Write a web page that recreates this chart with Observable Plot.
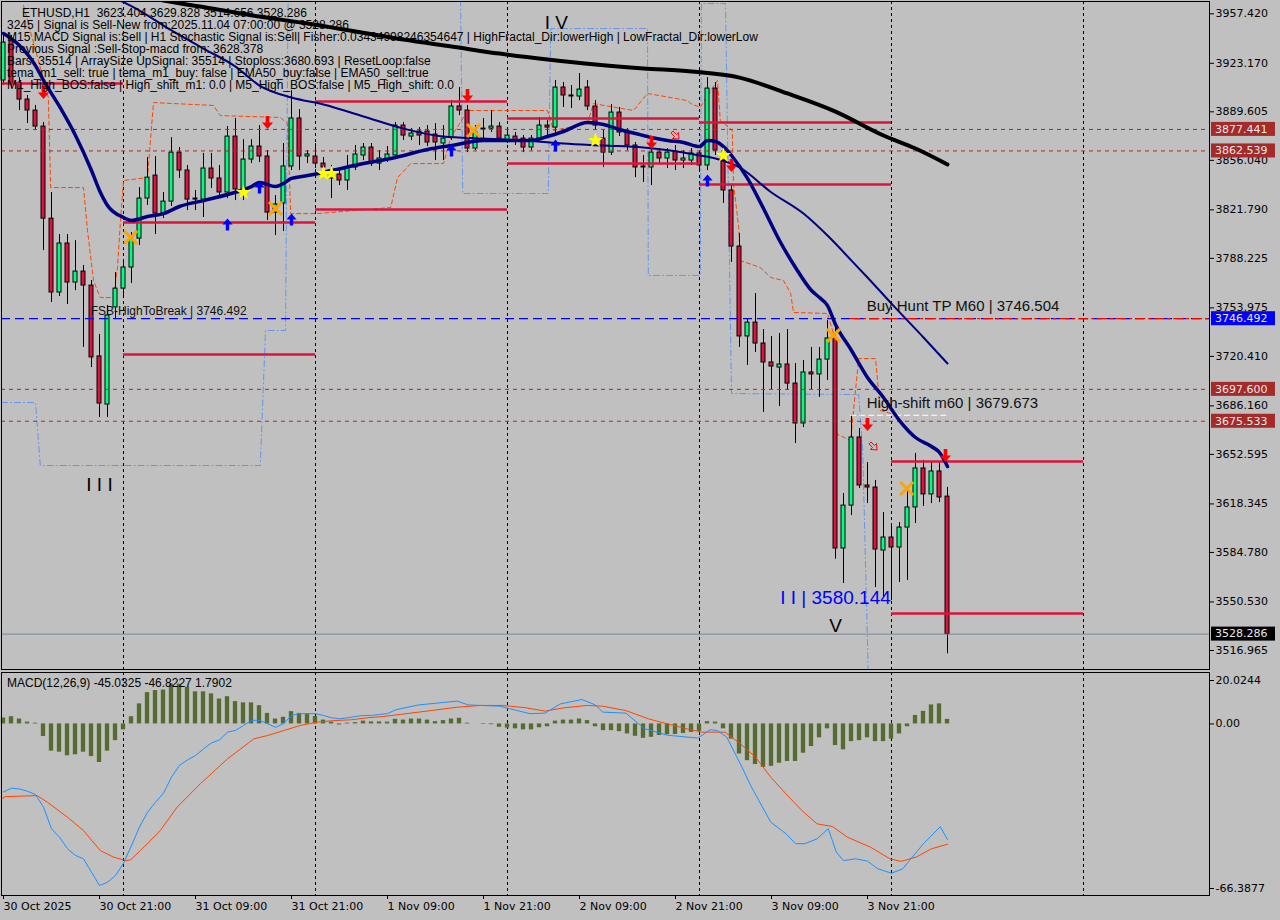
<!DOCTYPE html>
<html><head><meta charset="utf-8">
<script src="https://cdn.jsdelivr.net/npm/d3@7"></script>
<script src="https://cdn.jsdelivr.net/npm/@observablehq/plot@0.6"></script>
<style>
html,body{margin:0;padding:0;background:#c0c0c0;}
#chart{position:relative;width:1280px;height:920px;overflow:hidden;background:#c0c0c0;}
#chart svg{position:absolute;left:0;}
.info{position:absolute;font-family:"Liberation Sans",Arial,sans-serif;font-size:12px;line-height:12px;color:#000;white-space:pre;}
</style></head><body><div id="chart"></div>
<script>
// ---------- DATA ----------
const START_UTC = Date.UTC(2025, 9, 30, 9); // first visible H1 bar: 30 Oct 2025 09:00
const hour = h => new Date(START_UTC + h * 3600000);

const candleOpen = [3911.3,3938.9,3909.2,3898.1,3890.5,3879.4,3815.7,3764.6,3798.5,3771.5,3779.1,3769.4,3720.4,3687.1,3754.3,3767.3,3781.9,3801.9,3829.6,3845.5,3819.2,3827.5,3861.4,3849.0,3828.9,3828.9,3850.4,3843.5,3833.8,3872.5,3835.2,3856.6,3865.6,3858.7,3819.9,3826.2,3851.8,3885.0,3858.7,3858.7,3853.8,3843.5,3846.2,3842.1,3851.1,3859.4,3864.9,3853.8,3856.6,3859.4,3880.1,3872.5,3876.0,3876.0,3873.9,3867.7,3871.8,3893.3,3890.5,3864.2,3877.4,3878.0,3879.4,3869.8,3872.5,3871.1,3864.9,3871.1,3880.1,3878.7,3906.4,3900.9,3900.2,3906.4,3893.3,3871.1,3861.4,3889.1,3875.3,3866.3,3851.1,3851.1,3861.4,3857.3,3862.1,3855.9,3855.9,3860.8,3852.5,3905.7,3858.0,3835.2,3796.4,3734.2,3743.8,3729.3,3716.2,3712.7,3714.8,3701.6,3674.0,3709.3,3707.9,3718.2,3732.8,3587.5,3617.2,3664.3,3631.1,3629.7,3586.1,3595.1,3588.2,3602.0,3615.9,3642.9,3624.9,3640.8,3623.404];
const candleHigh = [3942.4,3942.4,3913.3,3900.9,3894.0,3882.2,3833.8,3804.7,3804.7,3800.5,3783.3,3772.9,3735.6,3755.6,3778.4,3785.3,3806.1,3837.2,3858.0,3858.7,3833.8,3871.8,3864.9,3852.5,3835.2,3860.8,3860.8,3852.5,3879.4,3885.0,3870.4,3870.4,3880.1,3862.8,3831.7,3867.7,3904.3,3891.2,3862.8,3867.7,3858.0,3852.5,3850.4,3859.4,3866.3,3867.7,3867.7,3862.8,3865.6,3882.2,3882.2,3878.0,3878.7,3880.1,3881.5,3880.1,3897.4,3906.4,3894.0,3880.1,3885.0,3890.5,3882.2,3876.7,3875.3,3873.2,3873.2,3885.7,3883.6,3911.3,3909.9,3907.8,3916.1,3911.3,3897.4,3876.7,3894.7,3892.6,3878.0,3868.4,3859.4,3864.2,3864.2,3864.2,3866.3,3862.8,3864.2,3862.8,3913.3,3909.9,3862.8,3838.6,3805.4,3746.6,3763.9,3739.0,3734.2,3736.3,3739.0,3715.5,3717.6,3726.6,3726.6,3745.2,3741.8,3625.6,3679.7,3670.5,3647.0,3634.6,3612.4,3603.4,3605.5,3627.6,3653.3,3648.4,3647.0,3647.0,3629.828];
const candleLow = [3907.8,3905.7,3890.5,3881.5,3876.6,3793.6,3757.7,3761.8,3756.3,3765.9,3726.6,3712.7,3678.1,3678.1,3746.6,3760.4,3770.8,3797.1,3824.8,3804.7,3815.8,3824.1,3843.5,3821.3,3821.3,3816.5,3836.5,3829.6,3829.6,3828.2,3828.2,3853.8,3854.5,3814.4,3804.0,3806.8,3849.0,3849.0,3853.8,3850.4,3845.5,3829.6,3838.6,3835.2,3849.0,3855.9,3851.8,3849.0,3854.5,3857.3,3869.8,3869.8,3866.3,3865.6,3855.9,3855.9,3869.8,3887.0,3861.4,3862.8,3869.8,3875.3,3868.4,3867.7,3866.3,3861.4,3862.8,3869.8,3873.2,3873.2,3892.6,3891.9,3897.4,3890.5,3876.6,3851.1,3859.4,3872.5,3862.8,3844.1,3840.7,3838.6,3853.8,3850.4,3849.0,3850.4,3852.5,3849.0,3849.0,3859.4,3826.2,3785.4,3726.6,3714.1,3723.1,3681.6,3697.5,3685.7,3696.8,3660.1,3671.2,3697.5,3692.0,3703.7,3580.144,3563.3,3610.3,3629.0,3618.6,3560.5,3553.6,3551.5,3564.0,3565.4,3604.8,3616.6,3618.6,3619.3,3514.656];
const candleClose = [3937.5,3909.2,3898.1,3890.5,3879.4,3815.7,3764.6,3798.5,3771.5,3779.1,3769.4,3719.7,3687.8,3748.7,3767.3,3781.9,3801.2,3829.6,3844.1,3819.2,3827.5,3861.4,3849.0,3828.9,3829.6,3850.4,3843.5,3833.8,3872.5,3835.9,3856.6,3865.6,3858.7,3819.9,3825.5,3851.8,3885.0,3858.7,3860.1,3853.8,3851.1,3847.6,3842.1,3851.1,3860.1,3864.9,3853.8,3857.3,3860.1,3880.1,3873.2,3874.6,3873.2,3868.4,3868.4,3871.1,3893.3,3890.5,3864.2,3875.3,3878.0,3879.4,3871.1,3873.2,3869.8,3864.9,3871.1,3880.1,3878.7,3906.4,3900.9,3900.2,3905.0,3893.3,3880.1,3861.4,3889.1,3875.3,3866.3,3851.1,3851.8,3861.4,3857.3,3861.4,3855.9,3857.3,3860.8,3852.5,3905.7,3862.8,3835.2,3796.4,3734.2,3743.8,3729.3,3716.2,3713.4,3714.8,3701.6,3674.0,3709.3,3707.9,3718.2,3732.8,3587.5,3617.2,3664.3,3631.1,3629.7,3586.8,3595.1,3588.2,3602.0,3615.9,3642.9,3624.9,3640.8,3622.8,3528.286];

// indicator lines: [hours since first bar, price]
const slowMA = [[14,3972.8],[17,3970.0],[20,3966.6],[26,3961.1],[32,3955.5],[38,3950.7],[44,3945.2],[50,3939.6],[56,3934.8],[62,3929.9],[68,3925.8],[74,3922.3],[80,3919.6],[86,3917.5],[92,3913.3],[98,3902.3],[104,3889.8],[110,3873.2],[114,3864.2],[118,3853.2]];
const midMA = [[13,3970.8],[17,3959.7],[21,3945.9],[25,3933.4],[29,3920.9],[32,3907.8],[36,3899.5],[40,3894.7],[45,3886.4],[50,3878.0],[55,3872.5],[60,3871.1],[65,3869.8],[70,3867.7],[75,3866.3],[80,3864.9],[85,3861.4],[87,3859.4],[89,3857.3],[92,3851.1],[96,3833.8],[100,3819.2],[103,3804.0],[106,3786.7],[108,3775.0],[111,3756.9],[115,3733.5],[118,3715.5]];
const fastMA = [[0,3943.8],[2,3935.5],[4,3921.6],[5,3911.3],[7,3893.3],[9,3873.2],[11,3849.0],[12,3835.2],[13,3824.8],[15,3816.5],[16,3814.4],[18,3817.2],[20,3819.2],[22,3824.1],[25,3828.2],[28,3832.4],[31,3837.9],[32,3840.7],[34,3837.9],[35,3840.0],[36,3843.5],[38,3845.5],[41,3849.0],[45,3853.8],[49,3858.0],[53,3863.5],[56,3866.3],[60,3869.8],[66,3869.8],[68,3872.5],[70,3876.0],[73,3882.2],[75,3880.8],[77,3877.4],[79,3874.6],[81,3871.8],[83,3869.8],[85,3868.4],[87,3865.6],[88,3869.8],[89,3869.1],[90,3865.6],[91,3859.4],[93,3843.5],[95,3822.7],[97,3800.6],[99,3781.9],[101,3766.0],[102,3761.1],[103,3755.6],[104,3742.5],[106,3724.5],[108,3705.8],[110,3692.0],[112,3676.0],[114,3664.3],[116,3658.1],[117,3653.9],[118,3644.2]];
const upperBand = [[2.5,3963.1],[5.6,3899.5],[5.9,3837.2],[10,3837.2],[10.5,3807.5],[11.25,3772.9],[12.1,3761.1],[13.75,3761.1],[14.25,3781.9],[14.6,3812.3],[15,3842.1],[18,3844.1],[18.75,3896.0],[26.25,3894.0],[27.1,3887.0],[34.6,3885.7],[35.5,3881.5],[35.9,3819.2],[39.25,3819.2],[48.4,3823.4],[49.25,3844.1],[50.9,3853.8],[55,3853.8],[55.9,3871.8],[57.5,3885.7],[58,3890.5],[68,3890.5],[68.75,3876.7],[73,3881.5],[73.75,3895.3],[78.75,3890.5],[80.5,3902.3],[85.5,3897.4],[85.9,3895.3],[87.1,3892.6],[88.4,3904.3],[89.25,3911.3],[89.6,3883.6],[91.1,3876.7],[91.25,3840.0],[91.9,3809.6],[92.1,3786.7],[94.6,3781.9],[95.9,3775.0],[97.5,3772.9],[98.4,3763.9],[98.75,3750.8],[103,3750.1],[103.75,3736.2],[104,3667.1],[105.9,3662.2],[106.25,3683.0],[106.9,3718.9],[109,3718.9],[109.6,3683.0],[110.9,3680.9]];
const lowerBand = [[-0.25,3688.5],[4,3688.5],[4.6,3644.9],[32.1,3644.9],[32.75,3738.3],[35.25,3738.3],[35.6,3985],[57.1,3985],[57.4,3833.1],[68.1,3833.1],[68.4,3947.2],[80.5,3947.2],[80.6,3776.4],[87.1,3776.4],[87.25,3964.5],[90.25,3964.5],[91,3694.7],[106.9,3694.0],[107.4,3655.3],[108.1,3500]];

// horizontal levels
const segStart = [-0.25,15,15,39,39,63,63,87,87,111,111];
const segEnd   = [15,39,39,63,63,87,87,111,111,135,135];
const segPrice = [3909.2,3813.0,3721.7,3896.7,3822.0,3885.0,3853.8,3882.2,3839.3,3647.7,3542.5];
const dashedLevels = [3877.441, 3862.539, 3697.600, 3675.533];
const fsbHigh = 3746.492, buyHuntTP = 3746.504, highShift = 3679.673, lastPrice = 3528.286;
const dayBreaks = [15, 39, 63, 87, 111, 135];

// signals
const redArrows = [[5,3903.0],[33,3882.2],[58,3900.9],[81,3868.4],[91,3852.5],[108,3673.3],[117.75,3651.8]];
const blueArrows = [[28,3811.7],[32,3837.2],[36,3815.1],[56,3862.8],[69,3866.3],[88,3842.1]];
const stars = [[30,3833.8],[40,3846.9],[41,3846.9],[74,3869.8],[90,3859.4]];
const crosses = [[15.9,3802.7],[34,3822.7],[58.75,3876.7],[103.75,3734.9],[112.9,3629.0]];
const hollowArrows = [[84,3873.2],[108.75,3658.1]];

const waveText = ["I V", "I I I", "V", "I I | 3580.144"];
const waveHour = [69.1, 12, 104, 104];
const wavePrice = [3950.8, 3631.8, 3534.2, 3553.6];
const waveColor = ["#000", "#000", "#000", "#0000ff"];
const noteText = ["FSB-HighToBreak | 3746.492", "Buy Hunt TP M60 | 3746.504", "High-shift m60 | 3679.673"];
const noteHour = [10.9, 107.9, 107.9];
const notePrice = [3751.4, 3754.9, 3687.8];
const noteSize = [12, 15, 15];

const priceTicks = [3957.420,3923.170,3889.605,3856.040,3821.790,3788.225,3753.975,3720.410,3686.160,3652.595,3618.345,3584.780,3550.530,3516.965];
const tagValues = [3877.441, 3862.539, 3746.492, 3697.600, 3675.533, 3528.286];
const tagColors = ["#a52a2a","#a52a2a","#0000ff","#a52a2a","#a52a2a","#000000"];

// MACD panel
const macdHist = [2.3,2.8,1.9,0.7,0.3,-4.9,-10.6,-11.0,-12.4,-12.0,-11.0,-12.7,-15.0,-10.6,-6.5,-2.3,2.8,7.8,12.2,13.0,13.2,15.5,15.5,14.3,12.5,12.5,11.7,9.7,10.6,8.7,8.2,8.2,7.1,4.1,1.9,2.6,4.8,4.1,3.9,2.9,1.5,0.7,-0.4,0.3,0.5,1.1,0.8,0.8,0.7,1.8,1.5,1.9,1.9,1.5,0.9,1.3,1.9,2.2,0.3,0,-0.2,-0.3,-1.3,-1.6,-1.9,-2.3,-2.3,-1.5,-1.1,1.1,1.5,1.5,1.9,1.3,-1.1,-2.6,-2.6,-3.0,-3.9,-4.8,-5.6,-5.2,-4.5,-4.2,-4.1,-3.7,-3.3,-2.9,0.9,0.7,-1.9,-5.9,-11.7,-14.3,-15.8,-16.9,-16.5,-15.3,-14.6,-14.6,-11.4,-8.8,-5.4,-1.9,-8.4,-10.1,-6.9,-6.5,-5.4,-6.9,-6.9,-5.9,-3.9,-1.1,3.3,4.9,7.4,7.8,1.7902];
const macdMain = [[0,-26.5],[1,-25.0],[2,-25.3],[3,-26.2],[4,-27.5],[5,-32.4],[6,-40.8],[7,-44.1],[8,-48.6],[9,-51.2],[10,-52.5],[11,-57.7],[12,-62.9],[13,-61.6],[14,-59.0],[15,-54.2],[16,-47.3],[17,-40.1],[18,-34.4],[19,-30.5],[20,-26.9],[21,-20.7],[22,-16.1],[23,-14.0],[24,-12.3],[25,-9.7],[26,-7.4],[27,-6.2],[28,-3.2],[29,-2.5],[30,-0.6],[31,1.4],[32,1.4],[33,0.1],[34,-1.3],[35,0.1],[36,3.3],[37,4.0],[38,4.0],[39,4.0],[40,3.3],[41,2.4],[42,2.0],[43,2.4],[44,2.9],[45,3.3],[46,3.3],[47,3.7],[48,4.0],[49,5.5],[51.9,7.4],[56.7,8.9],[58.1,7.4],[62,6.9],[65.8,4.0],[67.7,4.2],[69.6,7.8],[72.3,9.5],[74,7.4],[74.9,4.6],[77.8,4.2],[80.1,-1.8],[83,-4.4],[86.8,-5.5],[88.3,-2.3],[89.2,-2.5],[90.4,-5.1],[92.1,-15.5],[93.5,-24.6],[95.9,-38.2],[97.8,-42.7],[99,-46.6],[100.2,-46.6],[101.7,-44.7],[103.1,-40.8],[104.1,-49.9],[105,-53.2],[106.5,-52.5],[108,-53.4],[109.3,-56.4],[111,-58.1],[112.4,-56.4],[113.6,-51.8],[115,-46.6],[117.1,-40.0],[118,-45.0325]];
const macdSignal = [[-0.4,-29.5],[0.2,-28.3],[4.2,-27.9],[5.5,-30.5],[8,-36.3],[10,-41.5],[12.1,-49.3],[13.8,-51.9],[15.3,-53.2],[15.9,-52.9],[17.1,-49.3],[19.6,-41.5],[21.7,-32.4],[24.6,-23.3],[28,-13.6],[31.3,-5.8],[33,-4.5],[35,-2.6],[37.1,-0.6],[39.2,0.7],[41.3,1.3],[43.4,1.6],[45.5,2.4],[47.5,2.9],[49.6,3.7],[51.9,4.6],[56.7,6.5],[59.6,7.2],[62.4,7.2],[65.3,6.3],[67.7,5.0],[70.1,6.3],[73,7.2],[74.9,6.9],[77.8,5.2],[80.6,2.0],[83,0.0],[85.4,-1.9],[87.3,-3.2],[90.2,-3.2],[92.1,-7.7],[94,-12.9],[95.9,-20.7],[97.8,-27.2],[99.8,-33.7],[101.7,-38.9],[103.6,-39.9],[105.5,-44.1],[108.4,-48.0],[110.8,-52.5],[112.2,-53.5],[114.1,-51.8],[116,-48.6],[118,-46.8227]];
const macdTicks = [20.0244, 0, -66.3877];
const timeTickHours = [0,12,24,36,48,60,72,84,96,108];
const timeTickLabels = ["30 Oct 2025","30 Oct 21:00","31 Oct 09:00","31 Oct 21:00","1 Nov 09:00","1 Nov 21:00","2 Nov 09:00","2 Nov 21:00","3 Nov 09:00","3 Nov 21:00"];

const infoHeader = "ETHUSD,H1  3623.404 3629.828 3514.656 3528.286";
const infoLines = [
 "3245 | Signal is Sell-New from:2025.11.04 07:00:00 @ 3528.286",
 "M15 MACD Signal is:Sell | H1 Stochastic Signal is:Sell| Fisher:0.03434998246354647 | HighFractal_Dir:lowerHigh | LowFractal_Dir:lowerLow",
 "Previous Signal :Sell-Stop-macd from: 3628.378",
 "Bars: 35514 | ArraySize UpSignal: 35514 | Stoploss:3680.693 | ResetLoop:false",
 "tema_m1_sell: true | tema_m1_buy: false | EMA50_buy:false | EMA50_sell:true",
 "M1_High_BOS:false | High_shift_m1: 0.0 | M5_High_BOS:false | M5_High_shift: 0.0"
];
const macdTitle = "MACD(12,26,9) -45.0325 -46.8227 1.7902";

// ---------- BUILD ----------
const candles = candleOpen.map((o, i) => ({h: i, open: o, high: candleHigh[i], low: candleLow[i], close: candleClose[i]}));
const xDomain = [hour(-0.25), hour(150.75)];
const P = d => hour(d[0]);
const V = d => d[1];

function arrowPts(r){ const sw = r*0.28, hw = r*0.85; return [[-sw,-r],[sw,-r],[sw,0],[hw,0],[0,r],[-hw,0],[-sw,0]]; }
const makeArrow = rot => ({draw(ctx, size){
  const r = Math.sqrt(size/Math.PI), c = Math.cos(rot), s = Math.sin(rot);
  arrowPts(r).forEach(([x,y],i) => { const X = x*c - y*s, Y = x*s + y*c; i ? ctx.lineTo(X,Y) : ctx.moveTo(X,Y); });
  ctx.closePath();
}});
const arrowDown = makeArrow(0), arrowUp = makeArrow(Math.PI), arrowDiag = makeArrow(-Math.PI/4);

const segs = segPrice.map((p,i) => ({a: segStart[i], b: segEnd[i], p}));
const waves = waveText.map((t,i) => ({t, h: waveHour[i], p: wavePrice[i], c: waveColor[i]}));
const notes = noteText.map((t,i) => ({t, h: noteHour[i], p: notePrice[i], s: noteSize[i]}));

const main = Plot.plot({
  width: 1280, height: 670,
  marginLeft: 1, marginRight: 71, marginTop: 1, marginBottom: 1,
  style: {background: "#c0c0c0", fontFamily: "DejaVu Sans", fontSize: "11px", color: "black", overflow: "visible"},
  x: {type: "utc", domain: xDomain, axis: null},
  y: {domain: [3503.8, 3965.93]},
  marks: [
    Plot.ruleX(dayBreaks, {x: d => hour(d), stroke: "black", strokeDasharray: "3,3", strokeWidth: 1}),
    Plot.line(lowerBand, {x: P, y: V, stroke: "#6495ed", strokeWidth: 1, strokeDasharray: "6,3,1,3", clip: true}),
    Plot.line(upperBand, {x: P, y: V, stroke: "#ff4500", strokeWidth: 1, strokeDasharray: "4,3", clip: true}),
    Plot.ruleX(candles, {x: d => hour(d.h), y1: "low", y2: "high", stroke: "black", strokeWidth: 1}),
    Plot.rect(candles, {x1: d => hour(d.h - 0.25), x2: d => hour(d.h + 0.25), y1: d => Math.min(d.open, d.close), y2: d => Math.max(d.open, d.close),
      fill: d => d.close >= d.open ? "#00ff7f" : "#dc143c", stroke: "black", strokeWidth: 1}),
    Plot.ruleY(segs, {x1: d => hour(d.a), x2: d => hour(d.b), y: "p", stroke: "#dc143c", strokeWidth: 2.5, clip: true}),
    Plot.ruleY(dashedLevels, {stroke: "#a52a2a", strokeDasharray: "4,4", strokeWidth: 1}),
    Plot.ruleY([fsbHigh], {stroke: "#0000ff", strokeDasharray: "9,5", strokeWidth: 1.2}),
    Plot.ruleY([buyHuntTP], {x1: hour(105.9), x2: hour(150.75), stroke: "#ff0000", strokeDasharray: "10,3,3,3", strokeWidth: 1.2}),
    Plot.ruleY([highShift], {x1: hour(105.9), x2: hour(118), stroke: "#ffffff", strokeDasharray: "6,3", strokeWidth: 1}),
    Plot.ruleY([lastPrice], {stroke: "#778899", strokeWidth: 1}),
    Plot.line(slowMA, {x: P, y: V, stroke: "#000", strokeWidth: 4, curve: "monotone-x", clip: true}),
    Plot.line(midMA, {x: P, y: V, stroke: "#000080", strokeWidth: 2, curve: "monotone-x", clip: true}),
    Plot.line(fastMA, {x: P, y: V, stroke: "#000080", strokeWidth: 3.5, curve: "monotone-x", clip: true}),
    Plot.dot(blueArrows, {x: P, y: V, symbol: arrowUp, r: 6, fill: "#0000ff", stroke: "none"}),
    Plot.dot(redArrows, {x: P, y: V, symbol: arrowDown, r: 6.5, fill: "#ff0000", stroke: "none"}),
    Plot.dot(hollowArrows, {x: P, y: V, symbol: arrowDiag, r: 5, fill: "none", stroke: "#ff0000", strokeWidth: 1}),
    Plot.dot(stars, {x: P, y: V, symbol: "star", r: 4.8, fill: "#ffff00", stroke: "none"}),
    Plot.dot(crosses, {x: P, y: V, symbol: "times", r: 6, stroke: "#ffa500", strokeWidth: 3}),
    Plot.text(waves, {x: d => hour(d.h), y: "p", text: "t", fill: "c", fontSize: 19, fontFamily: "Liberation Sans"}),
    Plot.text(notes, {x: d => hour(d.h), y: "p", text: "t", fontSize: "s", fontFamily: "Liberation Sans", textAnchor: "start", fill: "#111"}),
    Plot.frame({stroke: "black"}),
    Plot.axisY({anchor: "right", ticks: priceTicks, tickFormat: d => d.toFixed(3), tickSize: 4, tickPadding: 2, label: null, fontSize: 11})
  ]
});

// price tags on the axis (positioned with the plot's own y scale)
const ys = main.scale("y");
const tagG = d3.select(main).append("g").attr("font-family", "DejaVu Sans").attr("font-size", 11).attr("text-anchor", "start");
tagValues.forEach((v, i) => {
  const y = ys.apply(v);
  tagG.append("rect").attr("x", 1211).attr("y", y - 7).attr("width", 64).attr("height", 14).attr("fill", tagColors[i]);
  tagG.append("text").attr("x", 1215).attr("y", y).attr("dy", "0.35em").attr("text-anchor", "start").attr("fill", "#e8e8e8").text(v.toFixed(3));
});

const histData = macdHist.map((v, i) => ({h: i, v}));
const labelByTime = new Map(timeTickHours.map((h, i) => [+hour(h), timeTickLabels[i]]));

const macd = Plot.plot({
  width: 1280, height: 250,
  marginLeft: 1, marginRight: 71, marginTop: 2, marginBottom: 25,
  style: {background: "#c0c0c0", fontFamily: "DejaVu Sans", fontSize: "11px", color: "black", overflow: "visible"},
  x: {type: "utc", domain: xDomain},
  y: {domain: [-66.78, 20.0244]},
  marks: [
    Plot.ruleX(dayBreaks, {x: d => hour(d), stroke: "black", strokeDasharray: "3,3", strokeWidth: 1}),
    Plot.rect(histData, {x1: d => hour(d.h - 0.27), x2: d => hour(d.h + 0.27), y1: 0, y2: "v", fill: "#556b2f"}),
    Plot.line(macdSignal, {x: P, y: V, stroke: "#ff4500", strokeWidth: 1, clip: true}),
    Plot.line(macdMain, {x: P, y: V, stroke: "#1e90ff", strokeWidth: 1, clip: true}),
    Plot.frame({stroke: "black"}),
    Plot.axisY({anchor: "right", ticks: [macdTicks[0]], tickFormat: d => d.toFixed(4), tickSize: 4, tickPadding: 2, dy: 8, label: null}),
    Plot.axisY({anchor: "right", ticks: [macdTicks[1]], tickFormat: d => d.toFixed(2), tickSize: 4, tickPadding: 2, label: null}),
    Plot.axisY({anchor: "right", ticks: [macdTicks[2]], tickFormat: d => d.toFixed(4), tickSize: 4, tickPadding: 2, dy: -6, label: null}),
    Plot.axisX({anchor: "bottom", ticks: timeTickHours.map(hour), tickFormat: d => labelByTime.get(+d), tickSize: 4, tickPadding: 3, textAnchor: "start", label: null})
  ]
});

const chart = document.getElementById("chart");
main.style.top = "0px";
macd.style.top = "670px";
chart.appendChild(main);
chart.appendChild(macd);

function addText(txt, left, top){
  const d = document.createElement("div");
  d.className = "info"; d.style.left = left + "px"; d.style.top = top + "px"; d.textContent = txt;
  chart.appendChild(d);
}
addText(infoHeader, 22, 7);
addText(infoLines.join("\n"), 7, 19);
addText(macdTitle, 7, 677);
</script></body></html>
